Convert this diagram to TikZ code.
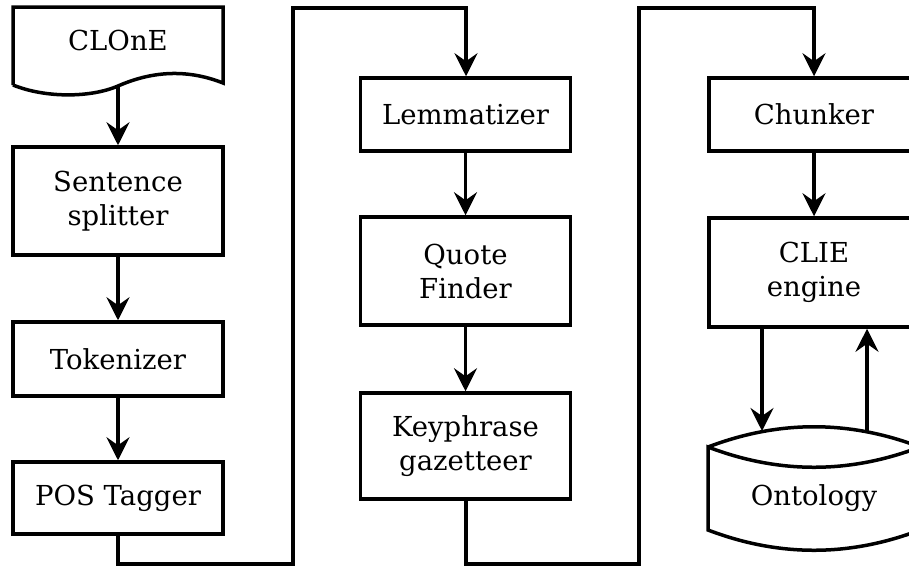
\documentclass[tikz,border=0pt]{standalone}
\usepackage{fontspec}
\setmainfont{DejaVu Serif}
\usetikzlibrary{arrows.meta}

\begin{document}
\begin{tikzpicture}[x=1pt, y=-1pt, line width=3.5pt,
  lbl/.style={font=\fontsize{27.5}{34}\selectfont, align=center, inner sep=0pt},
  box/.style={lbl, draw, rectangle, minimum width=210pt},
  flow/.style={-{Stealth[length=23pt, width=23pt, inset=8pt]}}]

  % page frame; the third column runs past the right edge
  \clip (0,0) rectangle (909,566);

  % source document with a wavy lower edge
  \draw (13,85) -- (13,7) -- (223,7) -- (223,83)
        .. controls (185,68) and (150,72) .. (118,86)
        .. controls (90,98) and (45,98) .. (13,85);
  \node[lbl] (clone) at (118,40) {CLOnE};
  \coordinate (cloneb) at (118,86);

  % first column
  \node[box, minimum height=108pt] (split) at (118,201) {Sentence\\splitter};
  \node[box, minimum height=74pt]  (tok)   at (118,359) {Tokenizer};
  \node[box, minimum height=72pt]  (pos)   at (118,498) {POS Tagger};

  % second column
  \node[box, minimum height=73pt]  (lem)   at (465.5,114.5) {Lemmatizer};
  \node[box, minimum height=108pt] (quote) at (465.5,271) {Quote\\Finder};
  \node[box, minimum height=106pt] (key)   at (465.5,446) {Keyphrase\\gazetteer};

  % third column
  \node[box, minimum height=73pt]  (chunk) at (814,114.5) {Chunker};
  \node[box, minimum height=109pt] (clie)  at (814,272.5) {CLIE\\engine};

  % ontology store drawn as a cylinder
  \draw (708,447) .. controls (779,420) and (849,420) .. (920,447)
        .. controls (849,474) and (779,474) .. (708,447) -- (708,530)
        .. controls (779,557) and (849,557) .. (920,530) -- (920,447);
  \node[lbl] (onto) at (814,498) {Ontology};
  \coordinate (ontoin)  at (762,431);
  \coordinate (ontoout) at (867,432);

  % turn points of the links between columns
  \coordinate (b1) at (118,564);
  \coordinate (b2) at (293,564);
  \coordinate (t1) at (293,8);
  \coordinate (t2) at (466,8);
  \coordinate (b3) at (466,564);
  \coordinate (b4) at (639,564);
  \coordinate (t3) at (639,8);
  \coordinate (t4) at (814,8);

  % connectors
  \draw[flow] (cloneb) -- (split.north);
  \draw[flow] (split) -- (tok);
  \draw[flow] (tok) -- (pos);
  \draw[flow] (pos.south) -- (b1) -- (b2) -- (t1) -- (t2) -- (lem.north -| t2);
  \draw[flow] (lem) -- (quote);
  \draw[flow] (quote) -- (key);
  \draw[flow] (key.south -| b3) -- (b3) -- (b4) -- (t3) -- (t4) -- (chunk.north);
  \draw[flow] (chunk) -- (clie);
  \draw[flow] (clie.south -| ontoin) -- (ontoin);
  \draw[flow] (ontoout) -- (clie.south -| ontoout);
\end{tikzpicture}
\end{document}
